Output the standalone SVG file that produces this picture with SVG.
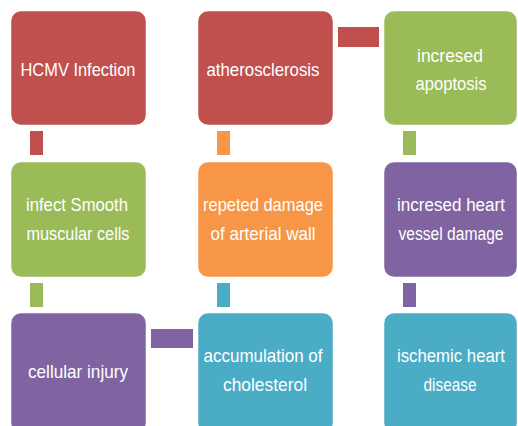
<svg xmlns="http://www.w3.org/2000/svg" width="518" height="426" viewBox="0 0 518 426">
<style>
.box{stroke:#ffffff;stroke-opacity:0.5;stroke-width:1}
.red{fill:#C0504D}.green{fill:#9BBB59}.orange{fill:#F79646}.purple{fill:#8064A2}.teal{fill:#4BACC6}
text{font-family:"Liberation Sans",Arial,sans-serif;font-size:19px;fill:#ffffff;text-anchor:middle}
</style>
<rect width="518" height="426" fill="#ffffff"/>
<g id="connectors">
<rect class="red" x="338" y="27" width="41" height="20"/>
<rect class="red" x="30" y="131" width="13" height="24"/>
<rect class="orange" x="217" y="131" width="13" height="24"/>
<rect class="green" x="403" y="131" width="13" height="24"/>
<rect class="green" x="30" y="283" width="13" height="24"/>
<rect class="teal" x="217" y="283" width="13" height="24"/>
<rect class="purple" x="403" y="283" width="13" height="24"/>
<rect class="purple" x="151" y="329" width="42" height="19"/>
</g>
<g id="n1"><rect class="box red" x="11" y="11" width="135" height="114" rx="10"/>
<text x="78" y="76" textLength="115" lengthAdjust="spacingAndGlyphs">HCMV Infection</text></g>
<g id="n2"><rect class="box red" x="198" y="11" width="135" height="114" rx="10"/>
<text x="263" y="76" textLength="113" lengthAdjust="spacingAndGlyphs">atherosclerosis</text></g>
<g id="n3"><rect class="box green" x="384" y="11" width="133" height="114" rx="10"/>
<text x="450" y="62" textLength="66" lengthAdjust="spacingAndGlyphs">incresed</text>
<text x="451" y="90" textLength="71" lengthAdjust="spacingAndGlyphs">apoptosis</text></g>
<g id="n4"><rect class="box green" x="11" y="162" width="135" height="115" rx="10"/>
<text x="77" y="211" textLength="102" lengthAdjust="spacingAndGlyphs">infect Smooth</text>
<text x="78" y="240" textLength="103" lengthAdjust="spacingAndGlyphs">muscular cells</text></g>
<g id="n5"><rect class="box orange" x="198" y="162" width="135" height="115" rx="10"/>
<text x="263" y="211" textLength="120" lengthAdjust="spacingAndGlyphs">repeted damage</text>
<text x="263" y="240" textLength="105" lengthAdjust="spacingAndGlyphs">of arterial wall</text></g>
<g id="n6"><rect class="box purple" x="384" y="162" width="133" height="115" rx="10"/>
<text x="451" y="211" textLength="108" lengthAdjust="spacingAndGlyphs" style="font-size:18px">incresed heart</text>
<text x="451" y="240" textLength="105" lengthAdjust="spacingAndGlyphs" style="font-size:18px">vessel damage</text></g>
<g id="n7"><rect class="box purple" x="11" y="313" width="135" height="120" rx="10"/>
<text x="78" y="378" textLength="100" lengthAdjust="spacingAndGlyphs">cellular injury</text></g>
<g id="n8"><rect class="box teal" x="198" y="313" width="135" height="120" rx="10"/>
<text x="263" y="362" textLength="119" lengthAdjust="spacingAndGlyphs">accumulation of</text>
<text x="265" y="391" textLength="84" lengthAdjust="spacingAndGlyphs">cholesterol</text></g>
<g id="n9"><rect class="box teal" x="384" y="313" width="133" height="120" rx="10"/>
<text x="451" y="362" textLength="108" lengthAdjust="spacingAndGlyphs">ischemic heart</text>
<text x="450" y="391" textLength="53" lengthAdjust="spacingAndGlyphs">disease</text></g>
</svg>
